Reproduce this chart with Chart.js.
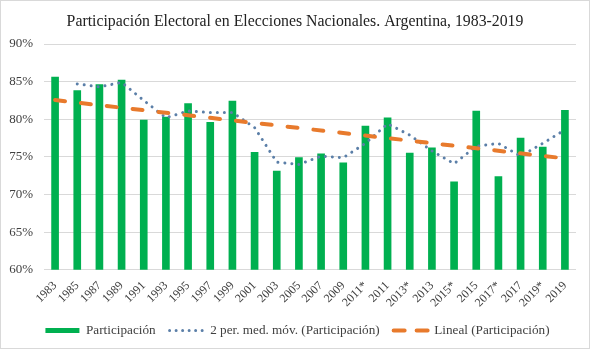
<!DOCTYPE html>
<html>
<head>
<meta charset="utf-8">
<script src="https://cdn.jsdelivr.net/npm/chart.js@4.4.1/dist/chart.umd.min.js"></script>
<style>
  html, body { margin: 0; padding: 0; background: #ffffff; }
  #wrap { width: 590px; height: 349px; box-sizing: border-box; border: 1px solid #d9d9d9; position: relative; }
</style>
</head>
<body>
<div id="wrap"><canvas id="chart"></canvas></div>
<script>
const titleText = 'Participación Electoral en Elecciones Nacionales. Argentina, 1983-2019';

// categorias (años de elección, * = PASO)
const years = ['1983', '1985', '1987', '1989', '1991', '1993', '1995', '1997', '1999', '2001',
  '2003', '2005', '2007', '2009', '2011*', '2011', '2013*', '2013', '2015*', '2015',
  '2017*', '2017', '2019*', '2019'];

// participacion (%)
const participacion = [85.6, 83.8, 84.6, 85.2, 79.9, 80.3, 82.1, 79.6, 82.4, 75.6,
  73.1, 74.9, 75.4, 74.2, 79.1, 80.2, 75.5, 76.2, 71.7, 81.1,
  72.4, 77.5, 76.3, 81.2];

// media movil de 2 periodos
const mediaMovil = [null, 84.7, 84.3, 84.9, 82.5, 80.2, 81.1, 80.9, 80.9, 78.9,
  74.3, 74.0, 75.1, 74.9, 76.8, 79.4, 77.9, 75.8, 74.1, 76.4,
  76.8, 75.1, 76.8, 78.6];

// linea de tendencia: extremos
const trendStart = 82.55;
const trendEnd = 74.8;

const yTicks = [60, 65, 70, 75, 80, 85, 90];

const tendencia = years.map((y, i) => i === 0 ? trendStart : (i === years.length - 1 ? trendEnd : null));

const serif = "'Liberation Serif', 'Times New Roman', serif";

const legendStyles = [
  { strokeStyle: '#00b050', lineWidth: 5, lineDash: [], lineCap: 'butt' },
  { strokeStyle: '#5b7fa8', lineWidth: 3, lineDash: [0.01, 6.5], lineCap: 'round' },
  { strokeStyle: '#e87a2c', lineWidth: 4, lineDash: [11, 12], lineCap: 'round' }
];

// titulo centrado en todo el ancho del lienzo
const centeredTitle = {
  id: 'centeredTitle',
  afterDraw(chart) {
    const ctx = chart.ctx;
    ctx.save();
    ctx.font = '15.8px ' + serif;
    ctx.fillStyle = '#222222';
    ctx.textAlign = 'center';
    ctx.textBaseline = 'alphabetic';
    ctx.fillText(titleText, chart.width / 2, 25);
    ctx.restore();
  }
};

// la leyenda queda centrada en el lienzo, no en el area menos el padding
const legendShift = {
  id: 'legendShift',
  afterLayout(chart) { chart.legend.left += 17; }
};

new Chart(document.getElementById('chart'), {
  type: 'bar',
  data: {
    labels: years,
    datasets: [{
      label: 'Participación',
      data: participacion,
      backgroundColor: '#00b050',
      barThickness: 7,
      order: 2
    }, {
      type: 'line',
      label: '2 per. med. móv. (Participación)',
      data: mediaMovil,
      borderColor: '#5b7fa8',
      borderWidth: 3,
      borderDash: [0.01, 7],
      borderCapStyle: 'round',
      pointRadius: 0,
      fill: false,
      order: 1
    }, {
      type: 'line',
      label: 'Lineal (Participación)',
      data: tendencia,
      borderColor: '#e87a2c',
      borderWidth: 4,
      borderDash: [10, 16],
      borderCapStyle: 'round',
      pointRadius: 0,
      spanGaps: true,
      fill: false,
      order: 0
    }]
  },
  plugins: [centeredTitle, legendShift],
  options: {
    responsive: true,
    maintainAspectRatio: false,
    animation: false,
    layout: { padding: { left: 1, right: 13, top: 43, bottom: 1 } },
    plugins: {
      title: { display: false },
      legend: {
        position: 'bottom',
        labels: {
          usePointStyle: true,
          pointStyleWidth: 34,
          boxHeight: 6,
          padding: 14,
          color: '#404040',
          font: { family: serif, size: 13.2 },
          generateLabels: chart => chart.data.datasets.map((ds, i) => Object.assign({
            text: ds.label,
            datasetIndex: i,
            pointStyle: 'line',
            fillStyle: legendStyles[i].strokeStyle,
            fontColor: '#404040',
            hidden: false
          }, legendStyles[i]))
        }
      },
      tooltip: { enabled: false }
    },
    scales: {
      x: {
        afterFit: scale => { scale.height = 40; },
        grid: { display: false },
        border: { display: false },
        ticks: {
          color: '#404040',
          font: { family: serif, size: 12 },
          minRotation: 45,
          maxRotation: 45,
          padding: 1,
          autoSkip: false
        }
      },
      y: {
        min: 60,
        max: 90,
        afterFit: scale => { scale.width = 42; },
        afterBuildTicks: scale => { scale.ticks = yTicks.map(v => ({ value: v })); },
        grid: { color: '#d9d9d9', drawTicks: false },
        border: { display: false },
        ticks: {
          color: '#404040',
          font: { family: serif, size: 13 },
          padding: 11,
          callback: v => v + '%'
        }
      }
    }
  }
});
</script>
</body>
</html>
